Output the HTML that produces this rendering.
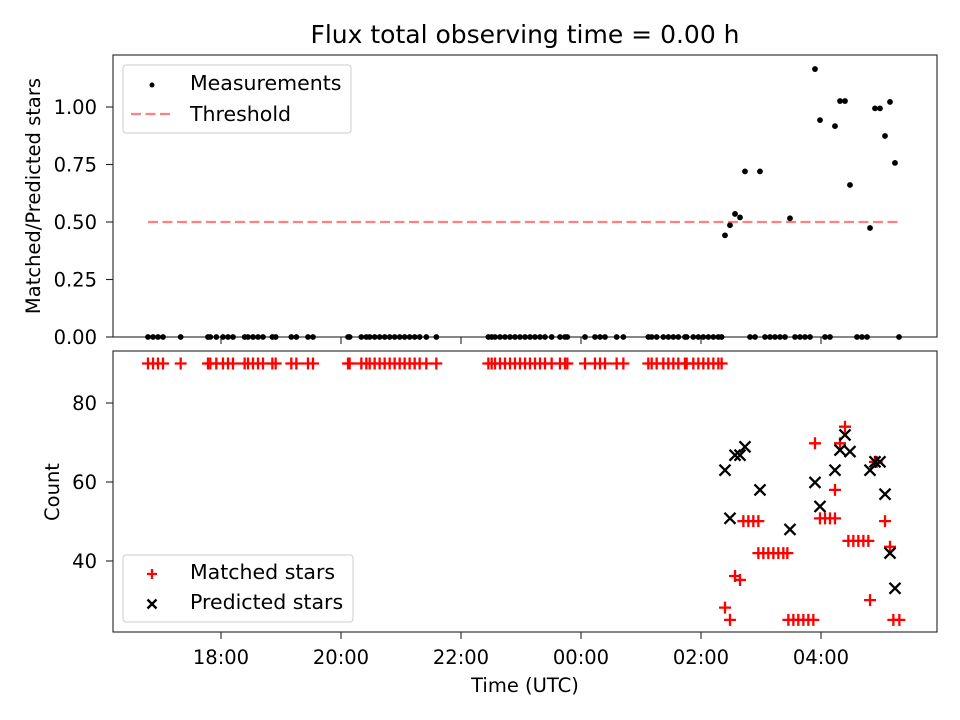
<!DOCTYPE html>
<html><head><meta charset="utf-8"><style>
body{margin:0;background:#fff;}
svg{display:block;font-family:"DejaVu Sans","Liberation Sans",sans-serif;}
</style></head><body>
<svg id="chart" width="960" height="720">
<text x="525" y="43" font-size="25" text-anchor="middle">Flux total observing time = 0.00 h</text>
<text transform="translate(40,196) rotate(-90)" font-size="19.5" text-anchor="middle">Matched/Predicted stars</text>
<text transform="translate(59,492) rotate(-90)" font-size="19.5" text-anchor="middle">Count</text>
<text x="525" y="692" font-size="19.5" text-anchor="middle">Time (UTC)</text>
</svg>
<script>
// hours relative to 18:00 UTC
const zeroTimes=[-1.217,-1.133,-1.05,-0.967,-0.672,-0.217,-0.178,-0.078,0.033,0.117,0.2,0.394,0.45,0.533,0.617,0.7,0.856,0.911,1.172,1.256,1.45,1.533,2.117,2.144,2.339,2.422,2.478,2.561,2.644,2.728,2.811,2.894,2.978,3.061,3.144,3.228,3.311,3.422,3.589,4.456,4.511,4.567,4.65,4.733,4.817,4.9,4.983,5.067,5.15,5.233,5.317,5.4,5.511,5.65,5.733,5.772,6.067,6.233,6.317,6.4,6.594,6.706,7.122,7.178,7.261,7.372,7.456,7.539,7.622,7.733,7.761,7.872,7.956,8.039,8.122,8.206,8.289,8.344];
const lateZeroTimes=[8.817,8.9,9.067,9.15,9.233,9.317,9.4,9.567,9.65,9.733,9.817,10.067,10.15,10.6,10.683,10.767,11.3];
const measTimes=[8.4,8.483,8.567,8.65,8.733,8.983,9.483,9.9,9.983,10.233,10.317,10.4,10.483,10.817,10.9,10.983,11.067,11.15,11.233];
const measValues=[0.442,0.486,0.535,0.52,0.72,0.72,0.516,1.165,0.943,0.917,1.026,1.026,0.661,0.474,0.994,0.994,0.874,1.022,0.757];
const threshold=0.5;
const matchedTimes=[8.4,8.483,8.567,8.65,8.706,8.789,8.872,8.956,8.956,9.039,9.122,9.206,9.289,9.372,9.439,9.456,9.539,9.622,9.706,9.789,9.872,9.9,9.983,10.067,10.15,10.233,10.233,10.317,10.4,10.456,10.539,10.622,10.706,10.789,10.817,10.9,10.928,11.067,11.15,11.206,11.306];
const matchedValues=[28.2,25.1,36.2,35.2,50.1,50.1,50.1,50.1,42,42,42,42,42,42,42,25.1,25.1,25.1,25.1,25.1,25.1,69.8,50.8,50.8,50.8,50.8,58,69.8,74,45.1,45.1,45.1,45.1,45.1,30.1,65.1,65.1,50.1,43.6,25.1,25.1];
const predTimes=[8.4,8.483,8.567,8.65,8.733,8.983,9.483,9.9,9.983,10.233,10.317,10.4,10.483,10.817,10.9,10.983,11.067,11.15,11.233];
const predValues=[63,50.8,66.8,66.8,68.9,58,48,59.9,53.8,63,68.1,71.9,67.7,63,65.1,65.1,56.9,42,33.1];
const zeroCount=90;
const xTicks=[0,2,4,6,8,10];
const xTickLabels=["18:00","20:00","22:00","00:00","02:00","04:00"];
const topTicks=[0,0.25,0.5,0.75,1.0];
const topTickLabels=["0.00","0.25","0.50","0.75","1.00"];
const botTicks=[40,60,80];

const svg=document.getElementById('chart');
const NS='http://www.w3.org/2000/svg';
const L=113,R=937,T1=55,B1=337,T2=351,B2=632;
const x=h=>221+h*60;
const y1=v=>337-v*230;
const y2=v=>403-(v-80)*3.95;
function mk(tag,attrs,parent){const e=document.createElementNS(NS,tag);for(const k in attrs)e.setAttribute(k,attrs[k]);(parent||svg).appendChild(e);return e;}

let f1=mk('rect',{x:L,y:T1,width:R-L,height:B1-T1,fill:'none',stroke:'#222','stroke-width':1.1});


let f2=mk('rect',{x:L,y:T2,width:R-L,height:B2-T2,fill:'none',stroke:'#222','stroke-width':1.1});



xTicks.forEach((t,i)=>{
  const px=x(t);
  let a=mk('line',{x1:px,x2:px,y1:B1,y2:B1+7,stroke:'#222','stroke-width':1.1});
  
  
  let b=mk('line',{x1:px,x2:px,y1:B2,y2:B2+7,stroke:'#222','stroke-width':1.1});
  
  
  let tx=mk('text',{x:px,y:B2+32,'font-size':19.5,'text-anchor':'middle'});
  tx.textContent=xTickLabels[i];
  
  
});
topTicks.forEach((t,i)=>{
  const py=y1(t);
  let a=mk('line',{x1:L-7,x2:L,y1:py,y2:py,stroke:'#222','stroke-width':1.1});
  
  
  let tx=mk('text',{x:L-16,y:py+7,'font-size':19.5,'text-anchor':'end'});
  tx.textContent=topTickLabels[i];
  
  
});
botTicks.forEach(t=>{
  const py=y2(t);
  let a=mk('line',{x1:L-7,x2:L,y1:py,y2:py,stroke:'#222','stroke-width':1.1});
  
  
  let tx=mk('text',{x:L-16,y:py+7,'font-size':19.5,'text-anchor':'end'});
  tx.textContent=String(t);
  
  
});

const allT=zeroTimes.concat(lateZeroTimes,measTimes);
const tmin=Math.min(...allT),tmax=Math.max(...allT);
let th=mk('line',{x1:x(tmin),x2:x(tmax),y1:y1(threshold),y2:y1(threshold),stroke:'#ff8080','stroke-width':2.2,'stroke-dasharray':'10,4.5'});



function dot(cx,cy){let c=mk('circle',{cx:cx,cy:cy,r:2.9,fill:'#000'});
  
  }
zeroTimes.forEach(t=>dot(x(t),y1(0)));
lateZeroTimes.forEach(t=>dot(x(t),y1(0)));
measTimes.forEach((t,i)=>dot(x(t),y1(measValues[i])));

function plus(cx,cy,g,s){s=s||6;let p=mk('path',{d:`M${cx-s},${cy}H${cx+s}M${cx},${cy-s}V${cy+s}`,stroke:'#f00','stroke-width':2.3,fill:'none'},g);
  
  return p;}
function cross(cx,cy,g,s){s=s||5.5;let p=mk('path',{d:`M${cx-s},${cy-s}L${cx+s},${cy+s}M${cx-s},${cy+s}L${cx+s},${cy-s}`,stroke:'#000','stroke-width':2.3,fill:'none'},g);
  
  return p;}
zeroTimes.forEach(t=>plus(x(t),y2(zeroCount)));
matchedTimes.forEach((t,i)=>plus(x(t),y2(matchedValues[i])));
predTimes.forEach((t,i)=>cross(x(t),y2(predValues[i])));

let lg1=mk('g',{});


mk('rect',{x:123,y:65,width:228,height:68,rx:3,fill:'#fff','fill-opacity':0.8,stroke:'#ccc'},lg1);
let ld=mk('circle',{cx:152,cy:85,r:2.5,fill:'#000'},lg1);


let lt=mk('text',{x:190,y:90,'font-size':20.5},lg1);lt.textContent='Measurements';


let ll=mk('line',{x1:131,x2:173,y1:114,y2:114,stroke:'#ff8080','stroke-width':2.2,'stroke-dasharray':'10,4.5'},lg1);


let lt2=mk('text',{x:190,y:121,'font-size':20.5},lg1);lt2.textContent='Threshold';



let lg2=mk('g',{});


mk('rect',{x:123,y:555,width:230,height:67,rx:3,fill:'#fff','fill-opacity':0.8,stroke:'#ccc'},lg2);
plus(152,574,lg2,5);
let lt3=mk('text',{x:190,y:579,'font-size':20.5},lg2);lt3.textContent='Matched stars';


cross(152,604,lg2,4.5);
let lt4=mk('text',{x:190,y:609,'font-size':20.5},lg2);lt4.textContent='Predicted stars';


</script>
</body></html>
